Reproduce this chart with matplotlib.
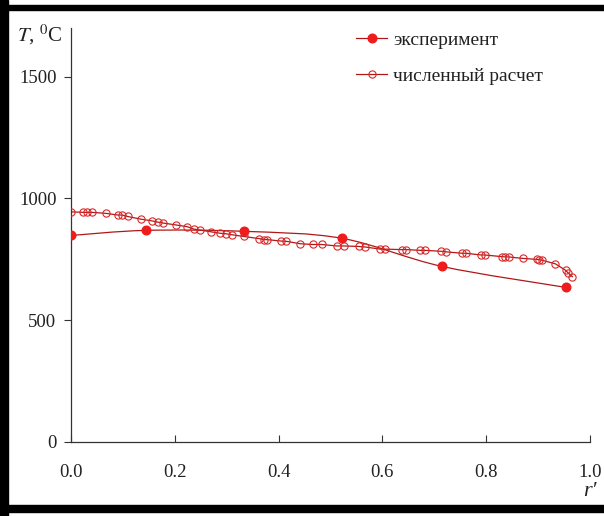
import numpy as np
import matplotlib
matplotlib.use("Agg")
import matplotlib.pyplot as plt
from matplotlib.path import Path
from matplotlib.patches import PathPatch, Rectangle
from matplotlib.lines import Line2D

plt.rcParams['font.family'] = ['Liberation Serif', 'DejaVu Serif']

# experiment
r_exp = [0.0, 0.144, 0.334, 0.523, 0.715, 0.953]
t_exp = [848, 869, 865, 836, 721, 635]

# numerical calculation
r_num = [0.0, 0.024, 0.031, 0.040, 0.067, 0.090, 0.099, 0.109, 0.135, 0.156,
         0.167, 0.178, 0.203, 0.224, 0.237, 0.249, 0.270, 0.288, 0.299, 0.310,
         0.333, 0.363, 0.372, 0.378, 0.405, 0.415, 0.442, 0.466, 0.483, 0.512,
         0.526, 0.554, 0.566, 0.596, 0.605, 0.637, 0.646, 0.673, 0.683, 0.713,
         0.722, 0.753, 0.761, 0.790, 0.797, 0.831, 0.837, 0.843, 0.870, 0.897,
         0.902, 0.908, 0.933, 0.953, 0.958, 0.966]
t_num = [945, 943, 943, 943, 939, 932, 932, 926, 915, 908,
         903, 899, 891, 884, 874, 870, 863, 857, 855, 851,
         844, 835, 831, 831, 825, 824, 814, 811, 811, 805,
         805, 803, 801, 792, 792, 790, 790, 787, 787, 783,
         781, 775, 775, 768, 768, 761, 760, 760, 754, 750,
         749, 746, 732, 705, 694, 679]

line_col = '#b01818'
mark_col = '#ee1c1c'


def smooth_path(xs, ys):
    # Catmull-Rom spline through the points, written as cubic Bezier segments
    pts = np.column_stack([xs, ys]).astype(float)
    ext = np.vstack([pts[0], pts, pts[-1]])
    verts = [pts[0]]
    codes = [Path.MOVETO]
    for i in range(1, len(ext) - 2):
        p0, p1, p2, p3 = ext[i - 1], ext[i], ext[i + 1], ext[i + 2]
        verts += [p1 + (p2 - p0) / 6.0, p2 - (p3 - p1) / 6.0, p2]
        codes += [Path.CURVE4] * 3
    return Path(verts, codes)


fig = plt.figure(figsize=(6.04, 5.16), dpi=100)
ax = fig.add_axes([71 / 604, 1 - 442 / 516, (590 - 71) / 604, (442 - 28) / 516])

ax.add_patch(PathPatch(smooth_path(r_exp, t_exp), fill=False,
                       edgecolor=line_col, lw=0.9, zorder=2))
ax.plot(r_exp, t_exp, 'o', color=mark_col, ms=6.2, mec=mark_col, zorder=4)
ax.plot(r_num, t_num, '-', color=line_col, lw=0.9, zorder=2)
ax.plot(r_num, t_num, 'o', ms=5.2, mfc='none', mec='#d82828', mew=0.8,
        zorder=3)

ax.set_xlim(0, 1.0)
ax.set_ylim(0, 1700)
ax.set_xticks([0, 0.2, 0.4, 0.6, 0.8, 1.0])
ax.set_xticklabels(['0.0', '0.2', '0.4', '0.6', '0.8', '1.0'])
ax.set_yticks([0, 500, 1000, 1500])
for s in ['top', 'right']:
    ax.spines[s].set_visible(False)
for s in ['left', 'bottom']:
    ax.spines[s].set_linewidth(0.9)
    ax.spines[s].set_color('#333333')
ax.tick_params(axis='x', direction='in', length=5, pad=16,
               labelsize=13.5, colors='#333333', labelcolor='#222222')
ax.tick_params(axis='y', direction='out', length=5, pad=5.5,
               labelsize=13.5, colors='#333333', labelcolor='#222222')

fig.text(17 / 604, 1 - 35 / 516, r'$T$, $^{0}$C', fontsize=15,
         va='center', ha='left', color='#222222',
         math_fontfamily='stix')
fig.text(590 / 604, 1 - 492 / 516, 'r\u2032', fontsize=16, va='center',
         ha='center', color='#222222', fontstyle='italic')

handles = [
    Line2D([], [], color=line_col, lw=0.9, marker='o', ms=6.2,
           mfc=mark_col, mec=mark_col),
    Line2D([], [], color=line_col, lw=0.9, marker='o', ms=5.2,
           mfc='none', mec='#d82828', mew=0.8),
]
fig.legend(handles, ['эксперимент', 'численный расчет'],
           loc='upper left', bbox_to_anchor=(356 / 604, 1 - 31 / 516),
           frameon=False, fontsize=14, borderpad=0, borderaxespad=0,
           handlelength=1.6, handletextpad=0.3, labelspacing=0.95,
           labelcolor='#222222')

# black frame around the figure
fig.patches.append(Rectangle((0, 0), 8 / 604, 1, transform=fig.transFigure,
                             color='black', zorder=10))
fig.patches.append(Rectangle((0, 1 - 10 / 516), 1, 5 / 516,
                             transform=fig.transFigure, color='black',
                             zorder=10))
fig.patches.append(Rectangle((0, 4 / 516), 1, 7 / 516,
                             transform=fig.transFigure, color='black',
                             zorder=10))

fig.savefig('out.png', dpi=100)
